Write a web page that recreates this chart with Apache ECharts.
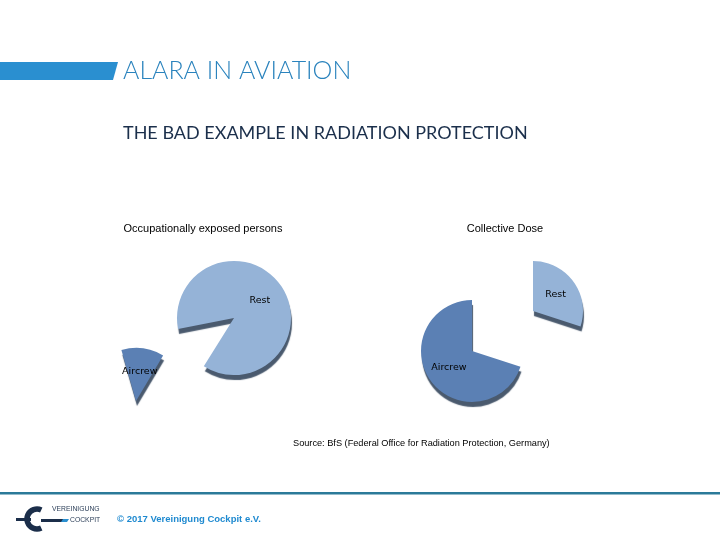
<!DOCTYPE html>
<html>
<head>
<meta charset="utf-8">
<script src="https://cdn.jsdelivr.net/npm/echarts@6/dist/echarts.min.js"></script>
<style>
html,body{margin:0;padding:0;background:#fff;}
#c{width:720px;height:540px;}
</style>
</head>
<body>
<div id="c"></div>
<script>
// ---- data ----
const categories = ['Aircrew', 'Rest'];
const personsShare = [13, 87];   // Occupationally exposed persons (%)
const doseShare = [70, 30];      // Collective Dose (%)
const chartTitles = ['Occupationally exposed persons', 'Collective Dose'];

const colors = { Aircrew: '#5b80b4', Rest: '#95b3d7' };
const shadow = '#4a5a6e';

function sliceData(values, visibleName) {
  return categories.map((name, i) => {
    const vis = name === visibleName;
    return {
      name: name,
      value: values[i],
      itemStyle: vis ? {
        color: colors[name], shadowColor: shadow, shadowBlur: 1, shadowOffsetY: 5, shadowOffsetX: 1
      } : { color: 'rgba(0,0,0,0)' },
      label: { show: vis }
    };
  });
}

function pie(values, visibleName, center, radius, startAngle, clockwise) {
  return {
    type: 'pie',
    center: center,
    radius: radius,
    startAngle: startAngle,
    clockwise: clockwise,
    silent: true,
    animation: false,
    avoidLabelOverlap: false,
    label: {
      position: 'inside', formatter: '{b}', color: '#000',
      fontFamily: 'DejaVu Sans', fontSize: 9.5
    },
    labelLine: { show: false },
    emphasis: { disabled: true },
    data: sliceData(values, visibleName)
  };
}

const chart = echarts.init(document.getElementById('c'), null, { renderer: 'canvas' });
chart.setOption({
  backgroundColor: '#fff',
  animation: false,
  title: [
    { text: 'ALARA IN AVIATION', left: 118, top: 53, padding: 5,
      textStyle: { fontFamily: 'Lato', fontWeight: 300, fontSize: 25, color: '#2a83bd' } },
    { text: 'THE BAD EXAMPLE IN RADIATION PROTECTION', left: 118, top: 119,
      textStyle: { fontFamily: 'Lato', fontWeight: 'normal', fontSize: 18, color: '#1b2f4b' } },
    { text: chartTitles[0], left: 198, top: 218, textAlign: 'center',
      textStyle: { fontFamily: 'Liberation Sans', fontWeight: 'normal', fontSize: 11, color: '#000' } },
    { text: chartTitles[1], left: 500, top: 218, textAlign: 'center',
      textStyle: { fontFamily: 'Liberation Sans', fontWeight: 'normal', fontSize: 11, color: '#000' } },
    { text: 'Source: BfS (Federal Office for Radiation Protection, Germany)', left: 288, top: 434,
      textStyle: { fontFamily: 'Liberation Sans', fontWeight: 'normal', fontSize: 9.2, color: '#000' } },
    { text: '© 2017 Vereinigung Cockpit e.V.', left: 112, top: 509,
      textStyle: { fontFamily: 'Liberation Sans', fontWeight: 'bold', fontSize: 9.5, color: '#1f8ad0' } }
  ],
  graphic: [
    { type: 'polygon', shape: { points: [[0, 62], [118, 62], [113, 80], [0, 80]] },
      style: { fill: '#2a8fd0' } },
    { type: 'rect', shape: { x: 0, y: 492, width: 720, height: 2.5 }, style: { fill: '#2b7a99' } },
    // logo
    { type: 'arc', shape: { cx: 37, cy: 519, r: 10, startAngle: -Math.PI * 0.36, endAngle: Math.PI * 0.36, clockwise: false },
      style: { stroke: '#1b2e4a', lineWidth: 5.5, fill: null } },
    { type: 'rect', shape: { x: 16, y: 518, width: 15, height: 3 }, style: { fill: '#1b2e4a' } },
    { type: 'rect', shape: { x: 41, y: 519, width: 22, height: 3 }, style: { fill: '#1b2e4a' } },
    { type: 'polygon', shape: { points: [[63, 519], [69, 519], [67, 522], [61, 522]] }, style: { fill: '#2a8fd0' } },
    { type: 'text', left: 52, top: 506, style: { text: 'VEREINIGUNG', fontSize: 6.8, fontFamily: 'Liberation Sans', fill: '#2b3e58' } },
    { type: 'text', left: 70, top: 517, style: { text: 'COCKPIT', fontSize: 6.8, fontFamily: 'Liberation Sans', fill: '#2b3e58' } }
  ],
  series: [
    pie(personsShare, 'Rest', [234, 318], 57, 238, true),
    pie(personsShare, 'Aircrew', [136, 401], 53, 106, true),
    pie(doseShare, 'Rest', [533, 311], 50, 90, false),
    pie(doseShare, 'Aircrew', [472, 351], 51, 90, false)
  ]
});
</script>
</body>
</html>
